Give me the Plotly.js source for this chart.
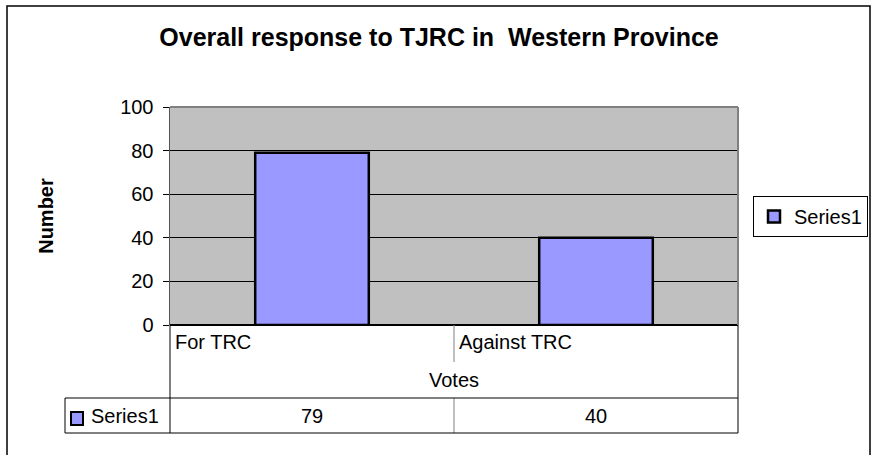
<!DOCTYPE html>
<html>
<head>
<meta charset="utf-8">
<script src="https://cdn.plot.ly/plotly-3.0.1.min.js"></script>
<style>
html,body{margin:0;padding:0;background:#fff;}
#chart{width:874px;height:455px;}
</style>
</head>
<body>
<div id="chart"></div>
<script>
// Data
var categories = ["For TRC", "Against TRC"];
var seriesName = "Series1";
var seriesValues = [79, 40];
var yTickValues = [0, 20, 40, 60, 80, 100];
var chartTitle = "Overall response to TJRC in  Western Province";
var xTitle = "Votes";
var yTitle = "Number";

var FONT = "Arial, 'Liberation Sans', sans-serif";
var barColor = "#9999FF";

// Pixel-to-paper helpers for the plot area (l=170, r=738, t=107, b=325)
var L = 170, R = 738, T = 107, B = 325;
function px(x){ return (x - L) / (R - L); }
function py(y){ return (B - y) / (B - T); }

var trace = {
  type: "bar",
  name: seriesName,
  x: categories,
  y: seriesValues,
  marker: {color: barColor, line: {color: "#000000", width: 2.5}},
  hoverinfo: "x+y"
};

var shapes = [];
// outer chart border
shapes.push({type:"rect", xref:"paper", yref:"paper", x0:px(7), x1:px(870), y0:py(462), y1:py(6),
  line:{color:"#000", width:1.5}, layer:"above"});
// plot area border (top and right)
shapes.push({type:"line", xref:"paper", yref:"paper", x0:0, x1:1, y0:1, y1:1, line:{color:"#808080", width:2}});
shapes.push({type:"line", xref:"paper", yref:"paper", x0:1, x1:1, y0:0, y1:1, line:{color:"#808080", width:2}});
// data table: left and right boundaries of category area
shapes.push({type:"line", xref:"paper", yref:"paper", x0:0, x1:0, y0:py(433), y1:0, line:{color:"#000", width:1}});
shapes.push({type:"line", xref:"paper", yref:"paper", x0:1, x1:1, y0:py(433), y1:0, line:{color:"#000", width:1}});
// separators between categories (in category label area and data row)
for (var i = 1; i < categories.length; i++) {
  shapes.push({type:"line", xref:"x", yref:"paper", x0:i-0.5, x1:i-0.5, y0:py(362), y1:0, line:{color:"#808080", width:1}});
  shapes.push({type:"line", xref:"x", yref:"paper", x0:i-0.5, x1:i-0.5, y0:py(433), y1:py(398), line:{color:"#808080", width:1}});
}
// data row horizontal lines
shapes.push({type:"line", xref:"paper", yref:"paper", x0:px(65), x1:1, y0:py(398), y1:py(398), line:{color:"#000", width:1}});
shapes.push({type:"line", xref:"paper", yref:"paper", x0:px(65), x1:1, y0:py(433), y1:py(433), line:{color:"#000", width:1}});
shapes.push({type:"line", xref:"paper", yref:"paper", x0:px(65), x1:px(65), y0:py(433), y1:py(398), line:{color:"#000", width:1}});
// legend key in table
shapes.push({type:"rect", xref:"paper", yref:"paper", x0:px(71), x1:px(83), y0:py(425), y1:py(412),
  fillcolor:barColor, line:{color:"#000", width:2}});

var annotations = [];
categories.forEach(function(c, i){
  annotations.push({xref:"x", yref:"paper", x:i-0.5, y:py(342), xanchor:"left", yanchor:"middle", xshift:3,
    text:c, showarrow:false, font:{family:FONT, size:20, color:"#000"}});
  annotations.push({xref:"x", yref:"paper", x:i, y:py(416), xanchor:"center", yanchor:"middle",
    text:String(seriesValues[i]), showarrow:false, font:{family:FONT, size:20, color:"#000"}});
});
annotations.push({xref:"paper", yref:"paper", x:px(89), y:py(416), xanchor:"left", yanchor:"middle",
  text:seriesName, showarrow:false, font:{family:FONT, size:20, color:"#000"}});

var layout = {
  width: 874, height: 455,
  margin: {l: L, r: 874 - R, t: T, b: 455 - B, pad: 0, autoexpand: false},
  paper_bgcolor: "#ffffff",
  plot_bgcolor: "#C0C0C0",
  font: {family: FONT, size: 20, color: "#000"},
  title: {text: chartTitle, font: {family: FONT, size: 25, color: "#000", weight: "bold"},
    x: px(439), xanchor: "center", y: 1 - 37.5/455, yanchor: "middle", xref: "paper", yref: "container"},
  bargap: 0.6,
  showlegend: true,
  legend: {x: px(753), y: py(216.5), xanchor: "left", yanchor: "middle",
    bordercolor: "#000", borderwidth: 1, bgcolor: "#fff",
    font: {family: FONT, size: 20, color: "#000"}, itemwidth: 30},
  xaxis: {
    type: "category", range: [-0.5, categories.length - 0.5],
    showticklabels: false, ticks: "", showgrid: false, zeroline: false,
    showline: false,
    title: {text: xTitle, font: {family: FONT, size: 20, color: "#000"}, standoff: 47}
  },
  yaxis: {
    range: [0, 100], tickvals: yTickValues, ticktext: yTickValues.map(String),
    ticks: "outside", ticklen: 6, tickwidth: 1, tickcolor: "#000", ticklabelstandoff: 5,
    showgrid: true, gridcolor: "#000", gridwidth: 1,
    zeroline: true, zerolinecolor: "#000", zerolinewidth: 1.5,
    showline: true, linecolor: "#555", linewidth: 1.5,
    tickfont: {family: FONT, size: 20, color: "#000"},
    title: {text: yTitle, font: {family: FONT, size: 20, color: "#000", weight: "bold"}, standoff: 61}
  },
  shapes: shapes,
  annotations: annotations
};

Plotly.newPlot("chart", [trace], layout, {displayModeBar: false, staticPlot: true});
</script>
</body>
</html>
